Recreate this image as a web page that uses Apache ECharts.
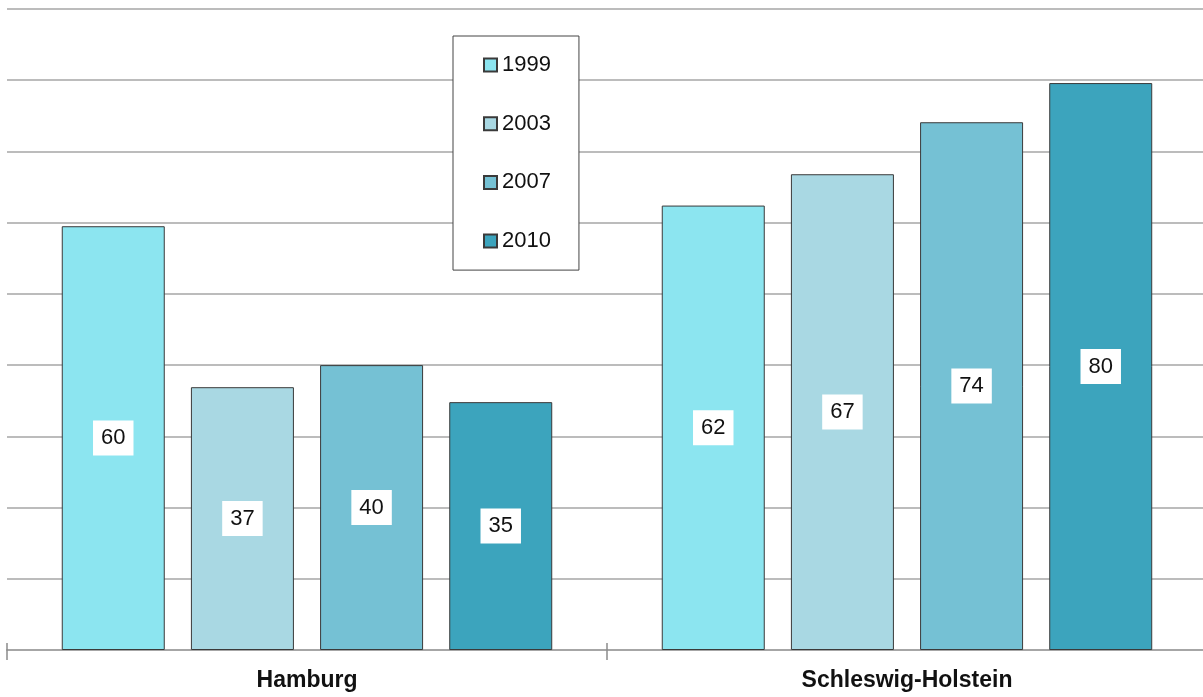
<!DOCTYPE html>
<html>
<head>
<meta charset="utf-8">
<script src="https://cdn.jsdelivr.net/npm/echarts@6/dist/echarts.min.js"></script>
<style>
html,body{margin:0;padding:0;background:#fff;overflow:hidden;width:1203px;height:697px;}
#chart{width:1207px;height:697px;}
</style>
</head>
<body>
<div id="chart"></div>
<script>
const categories = ['Hamburg', 'Schleswig-Holstein'];
const seriesNames = ['1999', '2003', '2007', '2010'];
const values1999 = [59.5, 62.4];
const values2003 = [36.9, 66.8];
const values2007 = [40.0, 74.1];
const values2010 = [34.8, 79.6];
const yMin = 0, yMax = 90, yInterval = 10;

const colors = ['#8ce5f0', '#a9d8e3', '#75c1d4', '#3ca4bd'];
const allValues = [values1999, values2003, values2007, values2010];

const chart = echarts.init(document.getElementById('chart'), null, {renderer: 'canvas'});
const font = 'Arial, "Liberation Sans", sans-serif';

const series = seriesNames.map((name, i) => ({
  name: name,
  type: 'bar',
  xAxisIndex: 0,
  data: allValues[i],
  barWidth: 103,
  barGap: '25.4%',
  itemStyle: { color: colors[i], borderColor: '#3a3a3a', borderWidth: 1 },
  label: {
    show: true,
    position: 'inside',
    formatter: p => String(Math.round(p.value)),
    color: '#111',
    fontFamily: font,
    fontSize: 22,
    lineHeight: 23,
    backgroundColor: '#fff',
    padding: [6, 8, 6, 8]
  },
  emphasis: { disabled: true },
  animation: false
}));

chart.setOption({
  animation: false,
  grid: { left: 7, top: 9, right: 0, bottom: 47, containLabel: false },
  legend: {
    orient: 'vertical',
    left: 453,
    top: 36,
    padding: [18, 28, 18, 30],
    borderColor: '#444',
    borderWidth: 1,
    backgroundColor: '#fff',
    itemWidth: 13,
    itemHeight: 13,
    itemGap: 36.7,
    icon: 'rect',
    textStyle: { fontFamily: font, fontSize: 22, lineHeight: 22, color: '#111', padding: [0, 0, 0, 0] },
    data: seriesNames
  },
  xAxis: [{
    type: 'category',
    data: categories,
    position: 'bottom',
    axisLine: { show: true, lineStyle: { color: '#a6a6a6', width: 2 } },
    axisTick: { show: true, length: 10, lineStyle: { color: '#8c8c8c', width: 1.5 } },
    axisLabel: { fontFamily: font, fontSize: 23, fontWeight: 'bold', color: '#111', margin: 19 },
    splitLine: { show: false }
  }, {
    type: 'category',
    data: categories,
    position: 'bottom',
    axisLine: { show: false },
    axisTick: { show: true, inside: true, length: 7, lineStyle: { color: '#8c8c8c', width: 1.5 } },
    axisLabel: { show: false },
    splitLine: { show: false }
  }],
  yAxis: {
    type: 'value',
    min: yMin,
    max: yMax,
    interval: yInterval,
    axisLine: { show: false },
    axisTick: { show: false },
    axisLabel: { show: false },
    splitLine: { show: true, lineStyle: { color: '#a6a6a6', width: 1.5 } }
  },
  series: series
});
</script>
</body>
</html>
